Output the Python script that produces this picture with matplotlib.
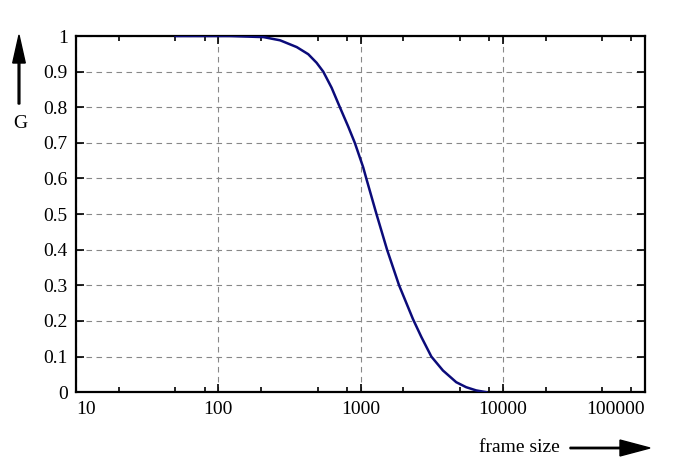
import numpy as np
import matplotlib
matplotlib.use("Agg")
import matplotlib.pyplot as plt
from matplotlib.ticker import FixedLocator, NullFormatter

plt.rcParams['font.family'] = ['Liberation Serif', 'DejaVu Serif']

# valores
frame_size = [50, 121, 208, 272, 356, 429, 491, 547, 626, 716, 819, 912, 1043,
              1102, 1295, 1537, 1867, 2339, 2678, 3148, 3796, 4711, 5534, 6503, 7655]
g_values = [1.0, 1.0, 0.997, 0.988, 0.969, 0.949, 0.925, 0.9, 0.855, 0.8, 0.746, 0.7, 0.632,
            0.598, 0.5, 0.4, 0.3, 0.205, 0.155, 0.1, 0.061, 0.028, 0.014, 0.005, 0.0]

x_ticks = [10, 100, 1000, 10000, 100000]
x_tick_labels = ["10", "100", "1000", "10000", "100000"]
y_ticks = [0, 0.1, 0.2, 0.3, 0.4, 0.5, 0.6, 0.7, 0.8, 0.9, 1]
y_tick_labels = ["0", "0.1", "0.2", "0.3", "0.4", "0.5", "0.6", "0.7", "0.8", "0.9", "1"]

fig = plt.figure(figsize=(6.98, 4.68), dpi=100)
ax = fig.add_axes([0.109, 0.162, 0.815, 0.761])

ax.plot(frame_size, g_values, color="#0b0b7a", linewidth=1.8, zorder=3,
        solid_joinstyle="round")

ax.set_xscale("log")
ax.set_xlim(10, 100000)
ax.set_ylim(0, 1)

ax.set_xticks(x_ticks)
ax.set_xticklabels(x_tick_labels)
minors = [d * m for d in [10, 100, 1000, 10000] for m in (2, 5, 8)]
ax.xaxis.set_minor_locator(FixedLocator(minors))
ax.xaxis.set_minor_formatter(NullFormatter())
ax.set_yticks(y_ticks)
ax.set_yticklabels(y_tick_labels)

ax.tick_params(axis="both", which="major", direction="in", length=6, width=1.2,
               top=True, right=True, labelsize=14, pad=6)
ax.tick_params(axis="both", which="minor", direction="in", length=3.5, width=1.2,
               top=True, right=True)

labels = ax.get_xticklabels()
labels[0].set_horizontalalignment("left")
labels[-1].set_horizontalalignment("right")

ax.grid(True, which="major", color="#888888", linestyle=(0, (5, 4)), linewidth=0.8)
for s in ax.spines.values():
    s.set_linewidth(1.6)

# flechas de los ejes
fig.patches.append(matplotlib.patches.FancyArrow(
    19 / 698, 1 - 104 / 468, 0, 69 / 468, width=0.0025, head_width=0.018,
    head_length=28 / 468, length_includes_head=True, color="black",
    transform=fig.transFigure))
fig.text(20 / 698, 1 - 124 / 468, "G", fontsize=14, ha="center", va="center")

fig.text(519 / 698, 1 - 447 / 468, "frame size", fontsize=14, ha="center", va="center")
fig.patches.append(matplotlib.patches.FancyArrow(
    570 / 698, 1 - 448 / 468, 80 / 698, 0, width=0.003, head_width=0.034,
    head_length=30 / 698, length_includes_head=True, color="black",
    transform=fig.transFigure))

fig.savefig("out.png", dpi=100)
